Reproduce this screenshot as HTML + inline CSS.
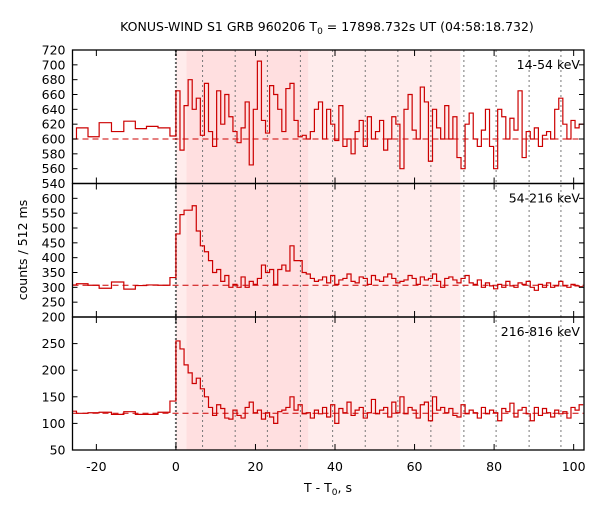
<!DOCTYPE html>
<html><head><meta charset="utf-8"><style>
html,body{margin:0;padding:0;background:#fff;}
svg text{font-family:"DejaVu Sans","Liberation Sans",sans-serif;}
</style></head><body>
<svg id="c" width="600" height="500" xmlns="http://www.w3.org/2000/svg"></svg>
<script>
const preEdges=[-26,-25,-22.1,-19.3,-16.2,-13.1,-10.2,-7.4,-4.5,-1.5,0];
const pre1=[600,615,603,622,610,624,614,617,615,604];
const pre2=[308,312,307,297,318,294,306,308,307,333];
const pre3=[123,119,120,121,117,122,117,117,121,142];
const postBin=1.024;
const post1=[665,585,645,680,640,655,605,675,610,590,665,620,660,630,610,595,615,650,565,640,705,625,608,672,660,640,610,668,675,625,603,605,600,
610,640,650,600,640,620,598,645,590,600,580,610,625,590,630,600,610,625,585,600,630,620,560,640,660,612,600,670,650,570,640,615,600,645,600,630,575,
560,620,635,600,590,612,640,590,560,640,630,600,628,612,665,575,610,600,615,590,605,610,600,640,655,620,600,625,615,620];
const post2=[480,545,560,560,575,490,440,420,390,350,360,320,340,300,310,300,335,300,320,310,330,375,350,360,310,360,375,355,440,390,390,350,345,
330,320,325,335,315,340,310,325,330,345,320,315,335,330,310,340,325,320,335,345,330,315,320,325,340,330,310,335,325,330,345,320,300,330,335,325,315,
330,340,315,310,325,300,315,305,295,310,300,320,305,300,315,310,320,300,290,310,300,315,300,305,320,305,300,310,305,302];
const post3=[255,240,210,195,175,185,165,150,130,115,135,128,110,108,125,115,110,130,140,120,125,108,120,112,100,122,125,130,150,125,135,118,
120,110,125,118,130,112,135,100,128,120,140,115,125,130,110,120,145,118,125,130,112,140,120,150,118,130,125,110,135,140,105,150,125,130,120,128,
115,112,135,118,125,120,110,130,118,125,120,105,128,122,138,112,125,130,118,105,130,115,128,120,112,125,118,122,110,130,125,135];
const bases=[600,307,119];
const xTicks=[-20,0,20,40,60,80,100];
const yTicks=[[540,560,580,600,620,640,660,680,700,720],[200,250,300,350,400,450,500,550,600],[50,100,150,200,250]];
const bandLabels=["14-54 keV","54-216 keV","216-816 keV"];
const vlines=[6.7,14.9,23.0,31.3,39.4,47.6,55.8,64.1,72.4,80.5,88.8,96.8];
const shades=[[0,2.66,"#ffecec"],[2.66,33.3,"#ffdfe0"],[33.3,71.5,"#ffecec"]];

const svg=document.getElementById('c');const NS="http://www.w3.org/2000/svg";
function mk(t,a,p){const e=document.createElementNS(NS,t);for(const k in a)e.setAttribute(k,a[k]);(p||svg).appendChild(e);return e;}
const L=72.5,R=584,X0=-26,X1=102.6;
const X=t=>L+(t-X0)/(X1-X0)*(R-L);
const panels=[{top:50,bot:183.5,lo:540,hi:720},{top:183.5,bot:317,lo:200,hi:650},{top:317,bot:450,lo:50,hi:300}];
const pres=[pre1,pre2,pre3],posts=[post1,post2,post3];
shades.forEach(s=>{const r=mk('rect',{x:X(s[0]),y:50,width:X(s[1])-X(s[0]),height:400,fill:s[2]});
});
vlines.forEach(v=>{const l=mk('line',{x1:X(v),x2:X(v),y1:50,y2:450,stroke:'#777','stroke-dasharray':'2,3','stroke-width':1});
});
const t0=mk('line',{x1:X(0),x2:X(0),y1:50,y2:450,stroke:'#666','stroke-dasharray':'2,2','stroke-width':2});

panels.forEach((p,i)=>{
 const Y=v=>p.bot-(v-p.lo)/(p.hi-p.lo)*(p.bot-p.top);
 const g=mk('g',{});
 const bl=mk('line',{x1:L,x2:R,y1:Y(bases[i]),y2:Y(bases[i]),stroke:'#cc0000','stroke-dasharray':'6,4','stroke-width':1},g);
 
 let d='';const pr=pres[i];
 for(let k=0;k<pr.length;k++){const a=X(preEdges[k]),b=X(preEdges[k+1]),y=Y(pr[k]);d+=(k?'L':'M')+a+','+y+'L'+b+','+y;}
 posts[i].forEach((v,k)=>{const a=X(k*postBin),b=Math.min(X((k+1)*postBin),R),y=Y(v);if(a<R)d+='L'+a+','+y+'L'+b+','+y;});
 const path=mk('path',{d:d,fill:'none',stroke:'#cc0000','stroke-width':1.2},g);
 
 mk('rect',{x:L,y:p.top,width:R-L,height:p.bot-p.top,fill:'none',stroke:'#000','stroke-width':1.3},g);
 yTicks[i].forEach(v=>{const y=Y(v);
  mk('line',{x1:L,x2:L+5,y1:y,y2:y,stroke:'#000'},g);mk('line',{x1:R-5,x2:R,y1:y,y2:y,stroke:'#000'},g);
  const t=mk('text',{x:L-7,y:y+4.5,'text-anchor':'end','font-size':12.5},g);t.textContent=v;
  });
 xTicks.forEach(v=>{const x=X(v);mk('line',{x1:x,x2:x,y1:p.top,y2:p.top+6,stroke:'#000'},g);mk('line',{x1:x,x2:x,y1:p.bot-6,y2:p.bot,stroke:'#000'},g);});
 const lab=mk('text',{x:580,y:p.top+19,'text-anchor':'end','font-size':12.5},g);lab.textContent=bandLabels[i];
 
});
xTicks.forEach(v=>{const t=mk('text',{x:X(v),y:471,'text-anchor':'middle','font-size':12.5});t.textContent=v;
 });
</script>
<svg width="600" height="500" style="position:absolute;left:0;top:0" xmlns="http://www.w3.org/2000/svg">
<text x="327" y="31" text-anchor="middle" font-size="12.5">KONUS-WIND S1 GRB 960206 T<tspan font-size="9" dy="3">0</tspan><tspan dy="-3"> = 17898.732s UT (04:58:18.732)</tspan></text>
<text x="0" y="0" transform="translate(27,250) rotate(-90)" text-anchor="middle" font-size="12.5">counts / 512 ms</text>
<text x="328" y="492" text-anchor="middle" font-size="12.5">T - T<tspan font-size="9" dy="3">0</tspan><tspan dy="-3">, s</tspan></text>
</svg>
</body></html>
